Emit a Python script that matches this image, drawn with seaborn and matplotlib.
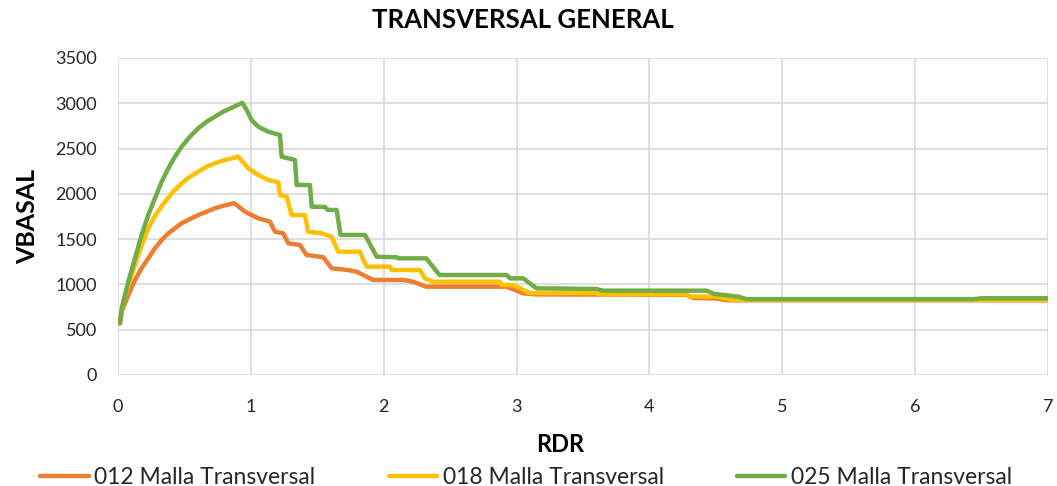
import numpy as np
import pandas as pd
import matplotlib
matplotlib.use("Agg")
import matplotlib.pyplot as plt
import seaborn as sns

# datos
rdr_012 = [0.015, 0.028, 0.078, 0.128, 0.178, 0.228, 0.278, 0.329, 0.379, 0.429, 0.479, 0.542, 0.604,
           0.667, 0.73, 0.792, 0.876, 0.956, 1.056, 1.144, 1.182,
           1.244, 1.282, 1.37, 1.42, 1.545, 1.608, 1.733, 1.797, 1.92, 2.147, 2.22, 2.32, 2.925, 3.05,
           3.15, 4.28, 4.33, 4.5, 4.58, 7.0]
vb_012 = [570, 700, 883, 1049, 1178, 1288, 1399, 1490, 1564, 1620, 1675, 1722, 1766,
          1803, 1840, 1869, 1896, 1803, 1730, 1693, 1582,
          1564, 1454, 1435, 1325, 1300, 1178, 1159, 1140, 1049, 1049, 1030, 975, 975, 902,
          890, 885, 850, 845, 825, 825]

rdr_018 = [0.015, 0.04, 0.103, 0.166, 0.228, 0.291, 0.354, 0.416, 0.479, 0.542, 0.604, 0.667, 0.73,
           0.805, 0.905, 0.981, 1.056, 1.131, 1.207, 1.219,
           1.27, 1.307, 1.407, 1.432, 1.533, 1.608, 1.658, 1.82, 1.872, 2.047, 2.06, 2.273, 2.31,
           2.37, 2.875, 2.89, 2.975, 3.1, 3.6, 3.62, 4.28, 4.3, 4.5, 4.63, 7.0]
vb_018 = [570, 810, 1104, 1380, 1620, 1785, 1913, 2024, 2116, 2190, 2245, 2300, 2337,
          2374, 2410, 2282, 2208, 2153, 2127, 1987,
          1968, 1766, 1766, 1582, 1564, 1527, 1361, 1361, 1196, 1196, 1159, 1159, 1067,
          1030, 1030, 994, 994, 905, 905, 891, 891, 865, 865, 828, 828]

rdr_025 = [0.015, 0.028, 0.078, 0.128, 0.178, 0.228, 0.278, 0.329, 0.379, 0.429, 0.479, 0.542, 0.604,
           0.667, 0.73, 0.792, 0.856, 0.935, 0.969, 1.006, 1.056,
           1.131, 1.219, 1.232, 1.332, 1.345, 1.445, 1.458, 1.558, 1.58, 1.646, 1.675, 1.86, 1.947,
           2.097, 2.11, 2.32, 2.42, 2.925, 2.95, 3.05, 3.15, 3.6, 3.65, 4.43, 4.49, 4.58, 4.67, 4.73,
           6.44, 6.5, 7.0]
vb_025 = [570, 737, 1030, 1288, 1546, 1766, 1950, 2134, 2282, 2410, 2520, 2631, 2723,
          2797, 2852, 2907, 2950, 3005, 2926, 2815, 2741,
          2686, 2650, 2410, 2374, 2098, 2098, 1858, 1855, 1822, 1822, 1546, 1546, 1306,
          1300, 1288, 1288, 1104, 1104, 1067, 1067, 957, 950, 931, 931, 894, 880, 865, 838,
          838, 847, 847]

series = ["012 Malla Transversal", "018 Malla Transversal", "025 Malla Transversal"]
colores = ["#ED7D31", "#FFC000", "#70AD47"]

df = pd.concat([
    pd.DataFrame({"RDR": rdr_012, "VBASAL": vb_012, "serie": series[0]}),
    pd.DataFrame({"RDR": rdr_018, "VBASAL": vb_018, "serie": series[1]}),
    pd.DataFrame({"RDR": rdr_025, "VBASAL": vb_025, "serie": series[2]}),
])

sns.set_style("white")
plt.rcParams["font.family"] = ["Lato", "DejaVu Sans"]

fig = plt.figure(figsize=(10.57, 4.86), dpi=100)
ax = fig.add_axes([0.1116, 0.2284, 0.8799, 0.6523])

for s, c in zip(series, colores):
    sns.lineplot(data=df[df["serie"] == s], x="RDR", y="VBASAL", color=c, lw=3.2,
                 sort=False, estimator=None, label=s, ax=ax)

ax.set_xlim(0, 7)
ax.set_ylim(0, 3500)
ax.set_xticks(range(0, 8))
ax.set_yticks(range(0, 3501, 500))
ax.grid(True, color="#D9D9D9", lw=1.2)
ax.set_axisbelow(True)
for sp in ax.spines.values():
    sp.set_visible(False)
ax.tick_params(axis="both", length=0, labelsize=13, colors="#262626")
ax.tick_params(axis="x", pad=17)
ax.tick_params(axis="y", pad=15)

ax.set_xlabel("RDR", fontsize=17, fontweight="bold", color="black")
ax.set_ylabel("VBASAL", fontsize=18, fontweight="bold", color="black")
ax.xaxis.set_label_coords(0.476, -0.182)
ax.yaxis.set_label_coords(-0.085, 0.5)
fig.text(0.495, 0.958, "TRANSVERSAL GENERAL", ha="center", va="center",
         fontsize=18.5, fontweight="bold", color="black")

ax.legend(loc="center", bbox_to_anchor=(0.439, -0.322), ncol=3, frameon=False,
          fontsize=16.5, handlelength=2.1, handletextpad=0.25, columnspacing=3.2)

fig.savefig("out.png", dpi=100)
